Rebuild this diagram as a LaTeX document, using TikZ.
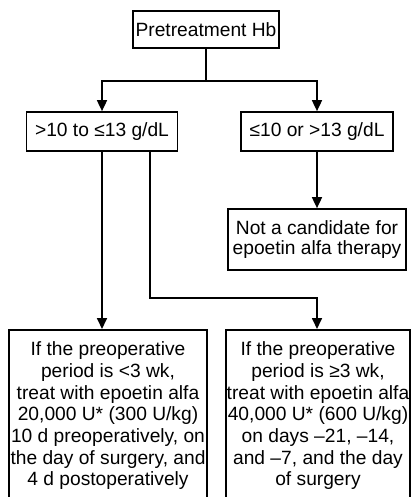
\documentclass[tikz,border=0pt]{standalone}
\usepackage{fontspec}
\setmainfont{Liberation Sans}
\usetikzlibrary{arrows.meta}
\tikzset{
  box/.style={draw, line width=1.7pt, align=center, inner xsep=1pt,
    font=\fontsize{19.2}{21.7}\selectfont},
  arr/.style={line width=1.7pt, -{Triangle[width=10pt,length=11pt]}}
}

\begin{document}
\begin{tikzpicture}[x=1pt, y=-1pt]
			%%%%% FRAME %%%%%
			\clip (0, 0) rectangle (412, 497);
			\fill[white] (0, 0) rectangle (412, 497);
			
			%%%%% BOXES %%%%%
			\node[box, minimum width=146, minimum height=37] (pretreat) at (206, 29.5) {Pretreatment Hb};
			
			\node[box, minimum width=151, minimum height=39] (lowhb) at (102, 131.5) {>10 to ≤13 g/dL};
			\node[box, minimum width=152, minimum height=39] (highhb) at (317, 131.5) {≤10 or >13 g/dL};
			
			\node[box, minimum width=178, minimum height=61, font=\fontsize{19.2}{20.5}\selectfont] (nocand) at (317, 239.5) {Not a candidate for\\epoetin alfa therapy};
			
			\node[box, minimum width=198, inner ysep=12pt, anchor=north] (short) at (108, 329)
				{If the preoperative\\period is <3 wk,\\treat with epoetin alfa\\20,000 U* (300 U/kg)\\10 d preoperatively, on\\the day of surgery, and\\4 d postoperatively};
			\node[box, minimum width=184, inner ysep=12pt, anchor=north] (long) at (318, 329)
				{If the preoperative\\period is ≥3 wk,\\treat with epoetin alfa\\40,000 U* (600 U/kg)\\on days –21, –14,\\and –7, and the day\\of surgery};
			
			%%%%% CONNECTORS %%%%%
			\coordinate (split) at (206, 81);
			\coordinate (bend) at (150, 298);
			
			\draw[line width=1.7pt] (pretreat.south) -- (split);
			\draw[arr] (split) -| (lowhb.north);
			\draw[arr] (split) -| (highhb.north);
			
			\draw[arr] (highhb.south) -- (nocand.north);
			
			\draw[arr] (lowhb.south) -- (lowhb.south |- short.north);
			\draw[arr] (lowhb.south -| bend) -- (bend) -| (highhb.south |- long.north);
			
			%%%%% END %%%%%
		\end{tikzpicture}
\end{document}
